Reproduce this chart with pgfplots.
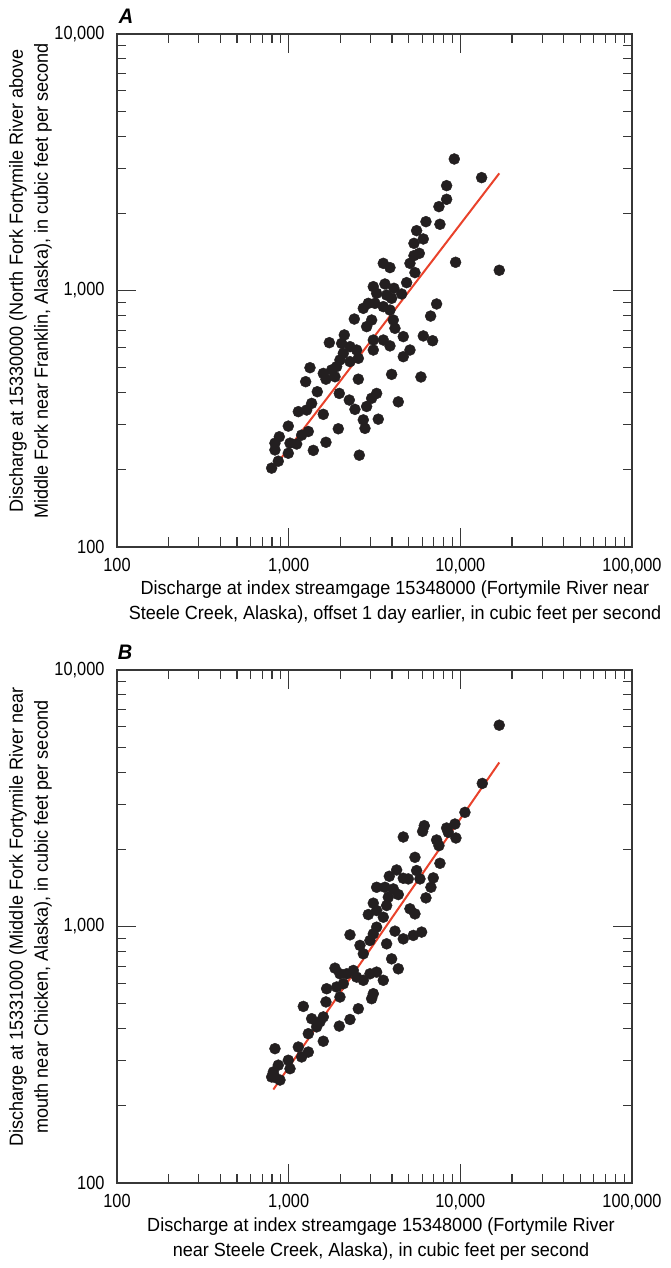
\documentclass[border=0pt]{standalone}
\usepackage{fontspec}
\setmainfont{Liberation Sans}[FakeStretch=0.95]
\newfontfamily\tickfont{Liberation Sans}[FakeStretch=0.86]
\usepackage{pgfplots}
\usepackage{pgfplotstable}
\pgfplotsset{compat=1.18}
\definecolor{dotc}{RGB}{35,31,32}
\definecolor{fitc}{RGB}{233,66,43}
\definecolor{axc}{RGB}{55,55,55}

\pgfplotstableread{
x y
9219 3256
13302 2754
8318 2563
8318 2267
7506 2123
6305 1855
7607 1812
5563 1711
6084 1588
5368 1527
5766 1396
5368 1367
5088 1276
3558 1276
3891 1228
9385 1288
16857 1199
5440 1174
4865 1073
3111 1035
3638 1060
4105 1020
4550 969
3254 975
3721 960
3979 932
7274 886
2910 891
2721 852
3182 891
3558 865
3891 839
6712 795
2412 774
3043 767
4069 767
2845 723
4161 712
4652 661
6084 665
6894 637
2109 671
2035 622
1725 626
3111 641
3558 641
3891 608
2276 604
2081 569
2488 586
3111 586
5088 586
4652 552
2545 544
1990 536
2276 528
1903 505
1780 490
1591 475
1861 461
1649 451
1331 500
1256 441
2545 451
3979 471
5896 460
1468 403
1972 397
3254 397
3043 380
2255 374
2433 344
2845 353
4351 368
1361 363
1273 342
1138 337
1591 329
2721 313
3327 315
995 296
2783 290
1946 289
1301 282
1190 273
882 269
832 254
832 239
1018 254
1113 252
1649 256
1392 238
995 232
2579 228
870 216
796 203
}\dataA

\pgfplotstableread{
x y
16850 6093
13421 3612
10636 2786
9301 2509
8318 2421
8506 2328
9427 2213
6166 2472
6029 2349
4652 2233
7274 2174
7506 2066
5440 1861
7607 1764
5563 1652
4255 1661
3856 1570
4652 1542
4975 1533
5818 1533
6956 1547
6742 1422
3254 1422
3638 1422
4069 1401
4351 1332
6305 1293
3805 1301
3111 1233
3721 1207
3254 1154
5088 1172
5440 1120
2910 1113
3558 1087
3254 994
2276 928
3111 936
4161 959
4652 895
5320 923
5949 951
3721 856
2975 882
2602 844
2721 783
3979 748
4351 684
1861 688
1990 654
2176 654
2380 674
2488 635
2721 617
2975 654
3254 664
3558 617
1664 572
1903 581
2081 598
1649 508
1990 531
3111 547
3043 523
1217 488
2545 478
2276 434
1972 409
1361 437
1522 425
1591 444
1455 406
1301 382
1591 357
832 334
1138 339
1301 324
1190 310
995 301
1018 279
870 288
814 271
832 258
890 252
796 259
}\dataB

\begin{document}
\fontsize{19}{25}\selectfont
\begin{tikzpicture}
\path[use as bounding box] (-117pt,-721pt) rectangle (553pt,547pt);

\begin{axis}[at={(0pt,0pt)}, anchor=south west,
    xmode=log, ymode=log,
    xmin=100, xmax=100000, ymin=100, ymax=10000,
    scale only axis, width=515pt, height=513pt,
    axis line style={axc, line width=1.2pt},
    every tick/.append style={axc, line width=1.1pt},
    major tick length=19pt, minor tick length=9.5pt,
    tick align=inside,
    xtick={100,1000,10000,100000},
    xticklabels={100,{1,000},{10,000},{100,000}},
    ytick={100,1000,10000},
    yticklabels={100,{1,000},{10,000}},
    minor xtick={200,300,400,500,600,700,800,900,2000,3000,4000,5000,6000,7000,8000,9000,20000,30000,40000,50000,60000,70000,80000,90000},
    minor ytick={200,300,400,500,600,700,800,900,2000,3000,4000,5000,6000,7000,8000,9000},
    tick label style={font=\tickfont\fontsize{19}{23}\selectfont},
    xticklabel style={yshift=-5pt},
    yticklabel style={xshift=-6pt},
    clip=false]
\addplot[only marks, mark=*, mark size=5.5pt, color=dotc, mark options={fill=dotc, draw=dotc}] table[x=x, y=y] {\dataA};
\addplot[color=fitc, line width=2pt] coordinates {(814,202.6) (16860,2862)};
\end{axis}

\begin{axis}[at={(0pt,-636pt)}, anchor=south west,
    xmode=log, ymode=log,
    xmin=100, xmax=100000, ymin=100, ymax=10000,
    scale only axis, width=515pt, height=513pt,
    axis line style={axc, line width=1.2pt},
    every tick/.append style={axc, line width=1.1pt},
    major tick length=19pt, minor tick length=9.5pt,
    tick align=inside,
    xtick={100,1000,10000,100000},
    xticklabels={100,{1,000},{10,000},{100,000}},
    ytick={100,1000,10000},
    yticklabels={100,{1,000},{10,000}},
    minor xtick={200,300,400,500,600,700,800,900,2000,3000,4000,5000,6000,7000,8000,9000,20000,30000,40000,50000,60000,70000,80000,90000},
    minor ytick={200,300,400,500,600,700,800,900,2000,3000,4000,5000,6000,7000,8000,9000},
    tick label style={font=\tickfont\fontsize{19}{23}\selectfont},
    xticklabel style={yshift=-5pt},
    yticklabel style={xshift=-6pt},
    clip=false]
\addplot[only marks, mark=*, mark size=5.5pt, color=dotc, mark options={fill=dotc, draw=dotc}] table[x=x, y=y] {\dataB};
\addplot[color=fitc, line width=2pt] coordinates {(814,231.4) (16860,4360)};
\end{axis}

\node[font=\fontsize{21}{25}\selectfont\bfseries\itshape] at (9pt,531pt) {A};
\node[font=\fontsize{21}{25}\selectfont\bfseries\itshape] at (8pt,-105pt) {B};

\node[rotate=90, align=center] at (-86.5pt,266pt) {Discharge at 15330000 (North Fork Fortymile River above\\Middle Fork near Franklin, Alaska), in cubic feet per second};
\node[rotate=90, align=center] at (-86.5pt,-370pt) {Discharge at 15331000 (Middle Fork Fortymile River near\\mouth near Chicken, Alaska), in cubic feet per second};

\node[align=center] at (278pt,-55pt) {Discharge at index streamgage 15348000 (Fortymile River near\\Steele Creek, Alaska), offset 1 day earlier, in cubic feet per second};
\node[align=center] at (264pt,-692pt) {Discharge at index streamgage 15348000 (Fortymile River\\near Steele Creek, Alaska), in cubic feet per second};
\end{tikzpicture}
\end{document}
